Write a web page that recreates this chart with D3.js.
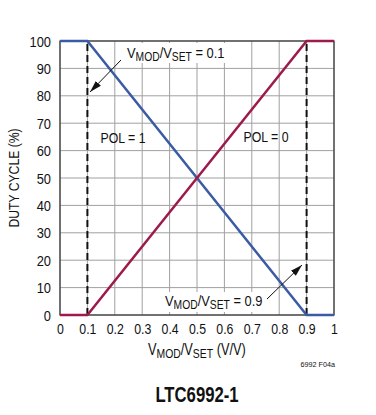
<!DOCTYPE html>
<html>
<head>
<meta charset="utf-8">
<script src="https://cdn.jsdelivr.net/npm/d3@7"></script>
<style>
body { margin: 0; background: #fff; }
text { font-family: "Liberation Sans", Arial, sans-serif; fill: #111; }
</style>
</head>
<body>
<svg></svg>
<script>
"use strict";

var xTicks = [0, 0.1, 0.2, 0.3, 0.4, 0.5, 0.6, 0.7, 0.8, 0.9, 1];
var yTicks = [0, 10, 20, 30, 40, 50, 60, 70, 80, 90, 100];
var pol1 = [[0, 100], [0.1, 100], [0.9, 0], [1, 0]];
var pol0 = [[0, 0], [0.1, 0], [0.9, 100], [1, 100]];
var limits = [0.1, 0.9];

var width = 376,
    height = 415;

var svg = d3.select("svg")
    .attr("width", width)
    .attr("height", height);

var x = d3.scaleLinear().domain([0, 1]).range([60, 334]);
var y = d3.scaleLinear().domain([0, 100]).range([315, 41]);

// narrow text helper, the original uses a condensed face
function ntext(px, py, size, sx) {
    return svg.append("text")
        .attr("transform", "translate(" + px + "," + py + ") scale(" + sx + ",1)")
        .style("font-size", size + "px");
}

// grid
svg.append("g").selectAll("line").data(xTicks).enter()
    .append("line")
    .attr("x1", function (d) { return x(d); })
    .attr("x2", function (d) { return x(d); })
    .attr("y1", y(0)).attr("y2", y(100))
    .attr("stroke", "#a0a0a0").attr("stroke-width", 1);
svg.append("g").selectAll("line").data(yTicks).enter()
    .append("line")
    .attr("y1", function (d) { return y(d); })
    .attr("y2", function (d) { return y(d); })
    .attr("x1", x(0)).attr("x2", x(1))
    .attr("stroke", "#a0a0a0").attr("stroke-width", 1);

svg.append("rect")
    .attr("x", x(0)).attr("y", y(100))
    .attr("width", x(1) - x(0)).attr("height", y(0) - y(100))
    .attr("fill", "none").attr("stroke", "#333").attr("stroke-width", 1.2);

// tick labels
var xAxis = d3.axisBottom(x).tickValues(xTicks).tickSize(0)
    .tickFormat(function (d) { return d === 0 || d === 1 ? d : d3.format(".1f")(d); });
var gx = svg.append("g").attr("transform", "translate(0," + y(0) + ")").call(xAxis);
gx.select(".domain").remove();
gx.selectAll("text").style("font-size", "14px").attr("fill", "#111")
    .attr("y", 19).attr("dy", 0)
    .attr("transform", "scale(0.88,1)");

var yAxis = d3.axisLeft(y).tickValues(yTicks).tickSize(0);
var gy = svg.append("g").attr("transform", "translate(" + x(0) + ",0)").call(yAxis);
gy.select(".domain").remove();
gy.selectAll("text").style("font-size", "14px").attr("fill", "#111")
    .attr("x", -9 / 0.92).attr("dy", "0.36em")
    .attr("transform", "scale(0.92,1)");

// dashed limits
svg.append("g").selectAll("line").data(limits).enter()
    .append("line")
    .attr("x1", function (d) { return x(d); })
    .attr("x2", function (d) { return x(d); })
    .attr("y1", y(0)).attr("y2", y(100))
    .attr("stroke", "#111").attr("stroke-width", 2)
    .attr("stroke-dasharray", "7,4");

var line = d3.line()
    .x(function (d) { return x(d[0]); })
    .y(function (d) { return y(d[1]); });

svg.append("path").datum(pol1).attr("d", line)
    .attr("fill", "none").attr("stroke", "#3b5ba5").attr("stroke-width", 2.5);
svg.append("path").datum(pol0).attr("d", line)
    .attr("fill", "none").attr("stroke", "#9e1a4b").attr("stroke-width", 2.5);

// arrows
svg.append("defs").append("marker")
    .attr("id", "arr").attr("viewBox", "0 0 12 10")
    .attr("refX", 12).attr("refY", 5)
    .attr("markerWidth", 12).attr("markerHeight", 10)
    .attr("markerUnits", "userSpaceOnUse")
    .attr("orient", "auto")
    .append("path").attr("d", "M0,1.5 L12,5 L0,8.5 Z").attr("fill", "#111");

svg.append("line").attr("x1", 121).attr("y1", 60).attr("x2", 90).attr("y2", 92)
    .attr("stroke", "#111").attr("stroke-width", 1).attr("marker-end", "url(#arr)");
svg.append("line").attr("x1", 267).attr("y1", 299).attr("x2", 302).attr("y2", 265)
    .attr("stroke", "#111").attr("stroke-width", 1).attr("marker-end", "url(#arr)");

function vLabel(sel, tail, sub) {
    sel.append("tspan").text("V");
    sel.append("tspan").attr("dy", 3).style("font-size", sub + "px").text("MOD");
    sel.append("tspan").attr("dy", -3).text("/V");
    sel.append("tspan").attr("dy", 3).style("font-size", sub + "px").text("SET");
    sel.append("tspan").attr("dy", -3).text(tail);
}

svg.append("rect").attr("x", 124).attr("y", 43).attr("width", 104).attr("height", 20).attr("fill", "#fff");
ntext(127, 58, 15, 0.86).call(vLabel, " = 0.1", 12);
svg.append("rect").attr("x", 162).attr("y", 292).attr("width", 104).attr("height", 20).attr("fill", "#fff");
ntext(165, 306, 15, 0.86).call(vLabel, " = 0.9", 12);

ntext(123, 143, 14, 0.88).attr("text-anchor", "middle").text("POL = 1");
ntext(266, 142, 14, 0.88).attr("text-anchor", "middle").text("POL = 0");

// axis titles
ntext(148, 355, 16, 0.8).call(vLabel, " (V/V)", 13);
svg.append("text")
    .attr("transform", "translate(19,178) rotate(-90) scale(0.87,1)")
    .attr("text-anchor", "middle").style("font-size", "14px")
    .text("DUTY CYCLE (%)");

ntext(335, 367, 8, 0.9).attr("text-anchor", "end").text("6992 F04a");
ntext(197, 402, 22, 0.76).attr("text-anchor", "middle")
    .style("font-weight", "bold").text("LTC6992-1");
</script>
</body>
</html>
